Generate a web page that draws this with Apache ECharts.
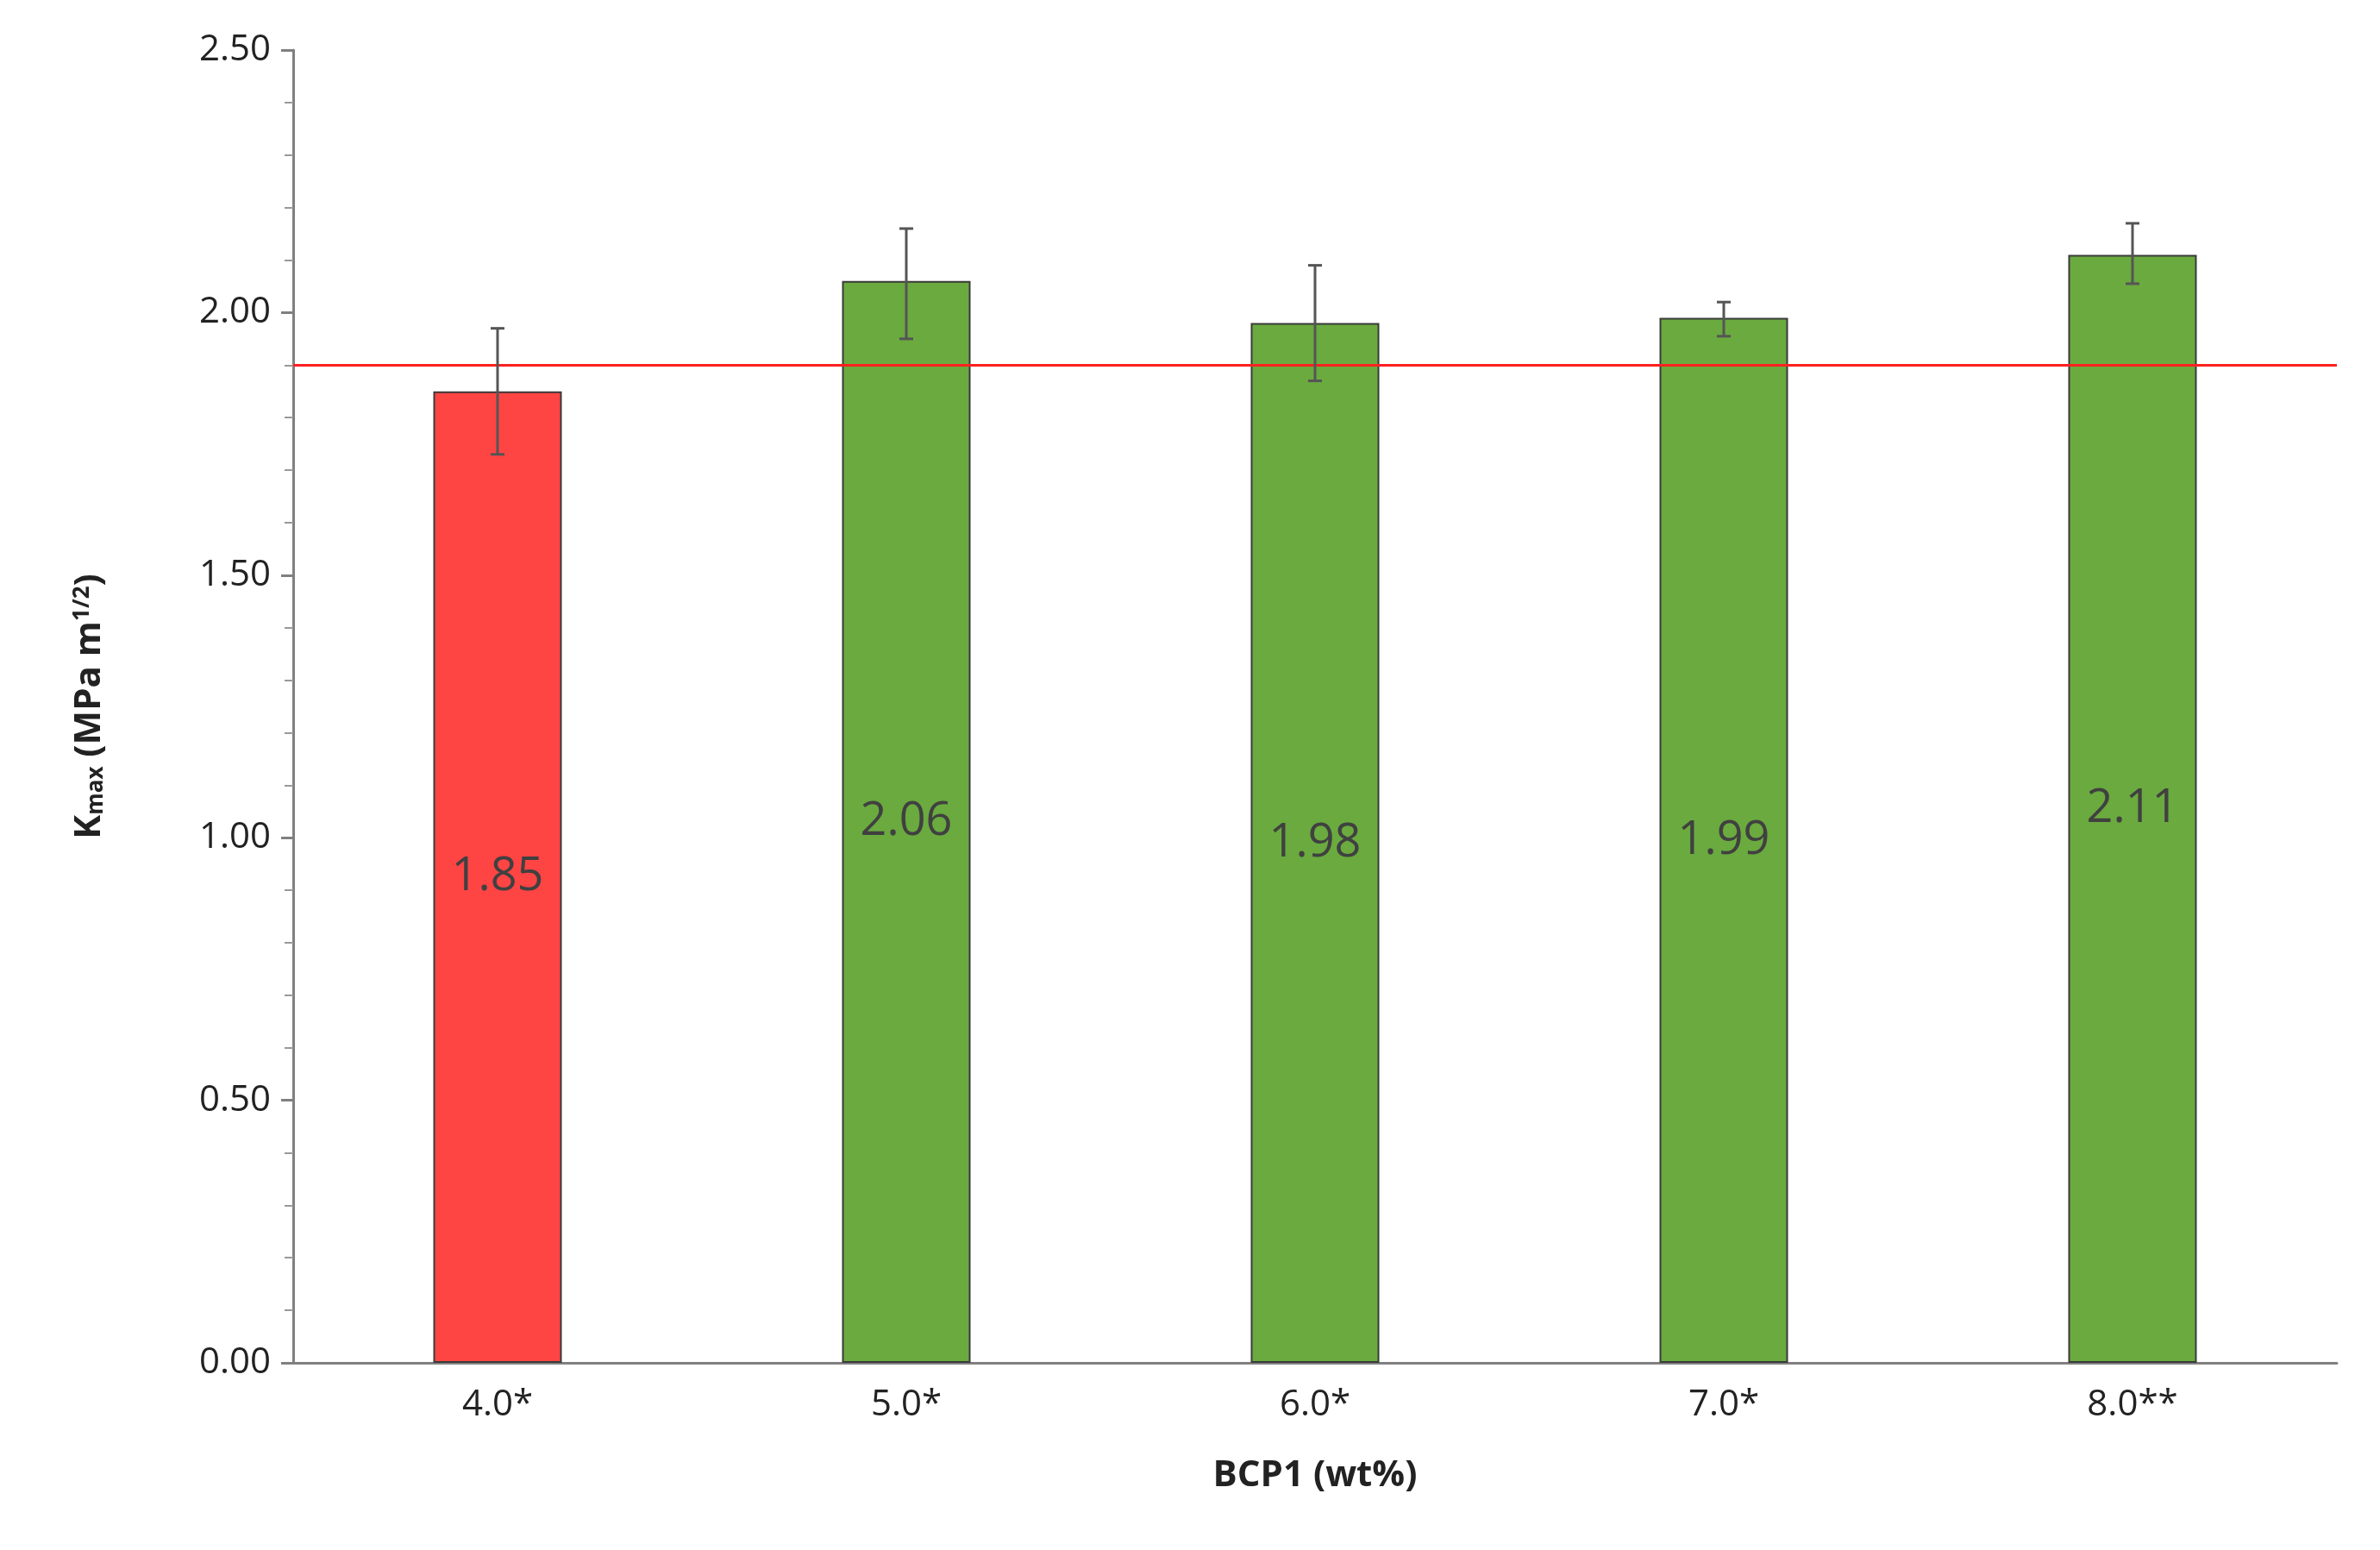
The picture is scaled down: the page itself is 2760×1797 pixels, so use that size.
<!DOCTYPE html>
<html><head><meta charset="utf-8">
<script src="https://cdn.jsdelivr.net/npm/echarts@6/dist/echarts.min.js"></script>
<style>html,body{margin:0;padding:0;background:#fff}#c{width:2760px;height:1797px}</style>
</head><body><div id="c"></div>
<script>
const categories = ['4.0*','5.0*','6.0*','7.0*','8.0**'];
const values = [1.85, 2.06, 1.98, 1.99, 2.11];
const errLow = [1.73, 1.95, 1.87, 1.955, 2.055];
const errHigh = [1.97, 2.16, 2.09, 2.02, 2.17];
const barColors = ['#ff4444','#6aaa3f','#6aaa3f','#6aaa3f','#6aaa3f'];
const refValue = 1.9;

const chart = echarts.init(document.getElementById('c'));
chart.setOption({
  animation:false,
  grid:{left:340,right:50,top:58,bottom:217},
  xAxis:{type:'category',data:categories,
    axisLine:{lineStyle:{color:'#808080',width:3}},axisTick:{show:false},
    axisLabel:{fontSize:42,color:'#222',margin:28,fontFamily:'Open Sans'},
    name:'BCP1 (wt%)',nameLocation:'middle',nameGap:110,
    nameTextStyle:{fontSize:42,fontWeight:'bold',color:'#222',fontFamily:'Open Sans'}},
  yAxis:{type:'value',min:0,max:2.5,interval:0.5,
    axisLine:{show:true,lineStyle:{color:'#808080',width:3}},
    axisTick:{show:true,length:14,lineStyle:{color:'#808080',width:3}},
    minorTick:{show:true,splitNumber:5,length:10,lineStyle:{color:'#999',width:2}},
    splitLine:{show:false},
    axisLabel:{fontSize:42,color:'#222',margin:26,formatter:v=>v.toFixed(2),fontFamily:'Open Sans'},
    name:'{a|K}{s|max}{a| (MPa m}{p|1/2}{a|)}',nameLocation:'middle',nameGap:215,nameRotate:90,
    nameTextStyle:{rich:{
      a:{fontSize:42,fontWeight:'bold',color:'#222',fontFamily:'Open Sans'},
      s:{fontSize:26,fontWeight:'bold',color:'#222',padding:[16,0,0,0],fontFamily:'Open Sans'},
      p:{fontSize:26,fontWeight:'bold',color:'#222',padding:[0,0,16,0],fontFamily:'Open Sans'}}}},
  series:[
    {type:'bar',barWidth:149,
     data:values.map((v,i)=>({value:v,itemStyle:{color:barColors[i],borderColor:'#3a3a3a',borderWidth:2}})),
     label:{show:true,position:'inside',fontSize:54,color:'#404040',formatter:p=>p.value.toFixed(2),fontFamily:'Open Sans'},
     markLine:{silent:true,symbol:'none',label:{show:false},
       lineStyle:{color:'#ff2020',width:3,type:'solid'},data:[{yAxis:refValue}]},
     z:2},
    {type:'custom',z:5,
     data:categories.map((c,i)=>[i,errLow[i],errHigh[i]]),
     renderItem:(params,api)=>{
       const lo=api.coord([api.value(0),api.value(1)]);
       const hi=api.coord([api.value(0),api.value(2)]);
       const w=8;
       const st={stroke:'#555',lineWidth:3};
       return {type:'group',children:[
         {type:'line',shape:{x1:lo[0],y1:lo[1],x2:hi[0],y2:hi[1]},style:st},
         {type:'line',shape:{x1:lo[0]-w,y1:lo[1],x2:lo[0]+w,y2:lo[1]},style:st},
         {type:'line',shape:{x1:hi[0]-w,y1:hi[1],x2:hi[0]+w,y2:hi[1]},style:st}]};
     }}
  ]
});
</script></body></html>
